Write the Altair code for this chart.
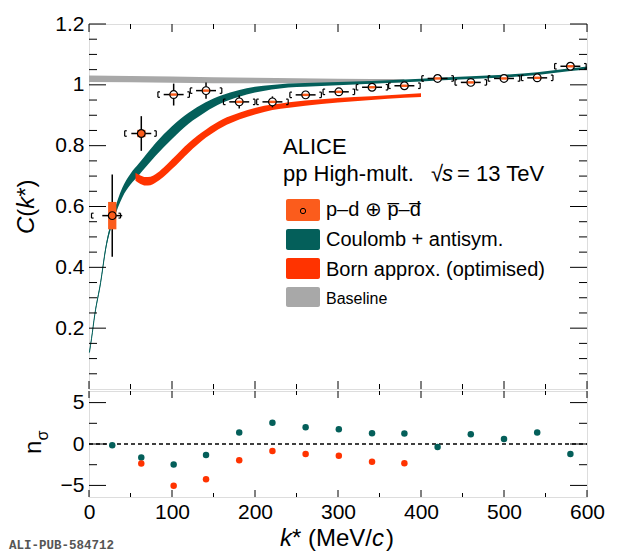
import altair as alt
import pandas as pd

FONT = "Liberation Sans"
TEAL = "#045f5a"
RED = "#ff3300"
ORANGE = "#fb5c1c"
GREY = "#a8a8a8"

# ---- p-d correlation ----
K = [28, 63, 102, 141, 181, 221, 261, 301, 341, 380, 420, 460, 500, 540, 580]
CK = [0.570, 0.840, 0.968, 0.981, 0.944, 0.944, 0.967, 0.977, 0.992, 0.997,
      1.021, 1.008, 1.021, 1.023, 1.061]
STAT = [0.135, 0.057, 0.036, 0.027, 0.022, 0.018, 0.013, 0.012, 0.011, 0.011,
        0.011, 0.011, 0.011, 0.011, 0.011]
SYS = [0.045, 0.012, 0.004, 0.004, 0.004, 0.004, 0.004, 0.004, 0.004, 0.004,
       0.004, 0.004, 0.004, 0.004, 0.004]
BRK_H = [0.008, 0.009, 0.009, 0.009, 0.009, 0.009, 0.009, 0.009, 0.009, 0.009,
         0.009, 0.009, 0.009, 0.009, 0.009]
BRK_L = [25, 20, 19, 19, 19, 19, 19, 19, 19, 19, 19, 19, 19, 19, 19]
BRK_R = [10, 18, 19, 19, 19, 19, 19, 19, 19, 19, 19, 19, 19, 19, 19]
XERR = 12
BOXW = 5

# Coulomb + antisym. band
COUL_K = [0.5, 3, 7, 14, 20, 30, 40, 50, 60, 70, 80, 100, 120, 140, 160, 180,
          200, 220, 240, 260, 300, 340, 380, 420, 460, 500, 540, 580, 600]
COUL_C = [0.12, 0.165, 0.245, 0.35, 0.46, 0.57, 0.645, 0.69, 0.722, 0.755, 0.787,
          0.843, 0.89, 0.926, 0.953, 0.971, 0.984, 0.992, 0.998, 1.0, 1.004,
          1.008, 1.013, 1.019, 1.024, 1.029, 1.037, 1.05, 1.056]
COUL_W = [0.003, 0.004, 0.005, 0.006, 0.007, 0.012, 0.016, 0.018, 0.019, 0.020,
          0.021, 0.021, 0.018, 0.016, 0.013, 0.011, 0.0095, 0.0075, 0.0065,
          0.006, 0.005, 0.0045, 0.0045, 0.0045, 0.0045, 0.0045, 0.0045, 0.0045,
          0.0045]

# Born approx. (optimised) band
BORN_K = [56, 62, 68, 74, 80, 90, 100, 120, 141, 161, 181, 201, 221, 241, 280,
          320, 360, 400]
BORN_C = [0.698, 0.688, 0.683, 0.684, 0.692, 0.713, 0.739, 0.793, 0.840, 0.874,
          0.897, 0.914, 0.926, 0.934, 0.945, 0.953, 0.960, 0.966]
BORN_W = [0.013, 0.014, 0.014, 0.014, 0.014, 0.015, 0.016, 0.016, 0.0135, 0.0125,
          0.011, 0.011, 0.009, 0.009, 0.008, 0.007, 0.006, 0.006]

# baseline band
BASE_K = [0, 100, 200, 300, 380]
BASE_LO = [1.009, 1.007, 1.005, 1.005, 1.008]
BASE_HI = [1.031, 1.027, 1.023, 1.020, 1.019]

# n_sigma
NS_COUL = [-0.16, -1.63, -2.48, -1.34, 1.38, 2.56, 2.03, 1.79, 1.30, 1.26,
           -0.37, 1.18, 0.61, 1.38, -1.22]
NS_BORN_K = [63, 102, 141, 181, 221, 261, 301, 341, 380]
NS_BORN = [-2.36, -5.04, -4.27, -1.95, -0.85, -1.22, -1.42, -2.15, -2.32]

LEGEND = [
    ("p\u2013d \u2295 p\u0305\u2013d\u0305", ORANGE, 20),
    ("Coulomb + antisym.", TEAL, 20),
    ("Born approx. (optimised)", RED, 20),
    ("Baseline", GREY, 16),
]

X_MAJOR = [0, 100, 200, 300, 400, 500, 600]
X_MINOR = [50, 150, 250, 350, 450, 550]
Y_MAJOR = [0.2, 0.4, 0.6, 0.8, 1.0, 1.2]
Y_MINOR = [0.05, 0.1, 0.15, 0.25, 0.3, 0.35, 0.45, 0.5, 0.55, 0.65, 0.7, 0.75,
           0.85, 0.9, 0.95, 1.05, 1.1, 1.15]
N_MAJOR = [-5, 0, 5]
N_MINOR = [-2.5, 2.5]

W, H1, H2 = 498, 365, 106

xs = alt.Scale(domain=[0, 600], nice=False, zero=False)
ys_top = alt.Scale(domain=[0, 1.2], nice=False, zero=False)
ys_bot = alt.Scale(domain=[-6.4, 6.4], nice=False, zero=False)

lab = dict(ticks=False, domain=False, grid=False, title=None, labelFont=FONT,
           labelFontSize=21, labelColor="black")
ax_x_top = alt.Axis(labels=False, **lab)
ax_x_bot = alt.Axis(values=X_MAJOR, format="d", labelPadding=4,
                    labelFlush=False, labelOverlap=False, **lab)
ax_y_top = alt.Axis(values=Y_MAJOR, format="~g", labelPadding=5,
                    labelOverlap=False, minExtent=45, maxExtent=45, **lab)
ax_y_bot = alt.Axis(values=N_MAJOR, format="d", labelPadding=5,
                    labelOverlap=False, minExtent=45, maxExtent=45, **lab)


def XT(f):
    return alt.X(f, type="quantitative", scale=xs, axis=ax_x_top)


def YT(f):
    return alt.Y(f, type="quantitative", scale=ys_top, axis=ax_y_top)


def XB(f):
    return alt.X(f, type="quantitative", scale=xs, axis=ax_x_bot)


def YB(f):
    return alt.Y(f, type="quantitative", scale=ys_bot, axis=ax_y_bot)


ONE = pd.DataFrame({"a": [0]})


def txt(s, x, y, size, style="normal", angle=0, font=FONT, color="black",
        weight="normal"):
    return alt.Chart(ONE).mark_text(
        text=s, font=font, fontSize=size, fontStyle=style, fontWeight=weight,
        angle=angle, align="left", baseline="alphabetic", color=color
    ).encode(x=alt.value(x), y=alt.value(y))


def tick_layers(X, Y, xmaj, xmin, ymaj, ymin, h, lx, lxm, ly, lym):
    out = []
    for vals, L in ((xmaj, lx), (xmin, lxm)):
        d = pd.DataFrame({"v": vals})
        out.append(alt.Chart(d).mark_rule(color="black", strokeWidth=1).encode(
            x=X("v"), y=alt.value(h), y2=alt.value(h - L)))
        out.append(alt.Chart(d).mark_rule(color="black", strokeWidth=1).encode(
            x=X("v"), y=alt.value(0), y2=alt.value(L)))
    for vals, L in ((ymaj, ly), (ymin, lym)):
        d = pd.DataFrame({"v": vals})
        out.append(alt.Chart(d).mark_rule(color="black", strokeWidth=1).encode(
            y=Y("v"), x=alt.value(0), x2=alt.value(L)))
        out.append(alt.Chart(d).mark_rule(color="black", strokeWidth=1).encode(
            y=Y("v"), x=alt.value(W), x2=alt.value(W - L)))
    return out


# ---- tables ----
pts = pd.DataFrame({"k": K, "c": CK, "stat": STAT, "sys": SYS, "bh": BRK_H,
                    "bl": BRK_L, "br": BRK_R})
pts["lo"] = pts.c - pts.stat
pts["hi"] = pts.c + pts.stat
pts["xl"] = pts.k - XERR
pts["xr"] = pts.k + XERR
pts["bxl"] = pts.k - BOXW
pts["bxr"] = pts.k + BOXW
pts["slo"] = pts.c - pts.sys
pts["shi"] = pts.c + pts.sys

# systematic brackets
vert = pd.concat([
    pd.DataFrame({"x": pts.k - pts.bl, "y1": pts.c - pts.bh, "y2": pts.c + pts.bh}),
    pd.DataFrame({"x": pts.k + pts.br, "y1": pts.c - pts.bh, "y2": pts.c + pts.bh}),
])
serif = pd.concat([
    pd.DataFrame({"x1": pts.k - pts.bl, "x2": pts.k - pts.bl + 2.5, "y": pts.c - pts.bh}),
    pd.DataFrame({"x1": pts.k - pts.bl, "x2": pts.k - pts.bl + 2.5, "y": pts.c + pts.bh}),
    pd.DataFrame({"x1": pts.k + pts.br, "x2": pts.k + pts.br - 2.5, "y": pts.c - pts.bh}),
    pd.DataFrame({"x1": pts.k + pts.br, "x2": pts.k + pts.br - 2.5, "y": pts.c + pts.bh}),
])

coul = pd.DataFrame({"k": COUL_K, "c": COUL_C, "w": COUL_W})
coul["lo"] = coul.c - coul.w
coul["hi"] = coul.c + coul.w
born = pd.DataFrame({"k": BORN_K, "c": BORN_C, "w": BORN_W})
born["lo"] = born.c - born.w
born["hi"] = born.c + born.w
base = pd.DataFrame({"k": BASE_K, "lo": BASE_LO, "hi": BASE_HI})

# ---- top panel ----
top_layers = [
    alt.Chart(base).mark_area(color=GREY, interpolate="monotone").encode(
        x=XT("k"), y=YT("lo"), y2="hi"),
    alt.Chart(coul).mark_line(color=TEAL, strokeWidth=1, interpolate="monotone").encode(
        x=XT("k"), y=YT("c")),
    alt.Chart(coul).mark_area(color=TEAL, interpolate="monotone").encode(
        x=XT("k"), y=YT("lo"), y2="hi"),
    alt.Chart(born).mark_area(color=RED, interpolate="monotone").encode(
        x=XT("k"), y=YT("lo"), y2="hi"),
    alt.Chart(vert).mark_rule(color="black", strokeWidth=1.2).encode(
        x=XT("x"), y=YT("y1"), y2="y2"),
    alt.Chart(serif).mark_rule(color="black", strokeWidth=1.2).encode(
        x=XT("x1"), x2="x2", y=YT("y")),
    alt.Chart(pts).mark_rule(color="black", strokeWidth=1.5).encode(
        x=XT("k"), y=YT("lo"), y2="hi"),
    alt.Chart(pts).mark_rule(color="black", strokeWidth=1.5).encode(
        x=XT("xl"), x2="xr", y=YT("c")),
    alt.Chart(pts).mark_point(shape="circle", filled=True, color="white",
                              opacity=1, size=60).encode(x=XT("k"), y=YT("c")),
    alt.Chart(pts).mark_rect(color=ORANGE).encode(
        x=XT("bxl"), x2="bxr", y=YT("slo"), y2="shi"),
    alt.Chart(pts).mark_point(shape="circle", filled=False, color="black",
                              strokeWidth=1.2, opacity=1, size=60).encode(
        x=XT("k"), y=YT("c")),
]
top_layers += tick_layers(XT, YT, X_MAJOR, X_MINOR, Y_MAJOR, Y_MINOR, H1,
                          8, 5, 17, 8)

# legend
box_top = [175, 205, 234, 263]
box_h = [22, 21, 21, 20]
txt_y = [192, 222, 252, 280]
for (label, col, fs), bt, bh, ty in zip(LEGEND, box_top, box_h, txt_y):
    top_layers.append(alt.Chart(ONE).mark_rect(color=col, cornerRadius=2).encode(
        x=alt.value(197), x2=alt.value(231), y=alt.value(bt), y2=alt.value(bt + bh)))
    top_layers.append(txt(label, 237, ty, fs))
top_layers.append(alt.Chart(ONE).mark_point(
    shape="circle", filled=False, color="black", strokeWidth=1, size=28, opacity=1
).encode(x=alt.value(214), y=alt.value(187)))

top_layers += [
    txt("ALICE", 194, 130, 22),
    txt("pp High-mult.", 194, 157, 22),
    txt("\u221a", 342, 157, 22),
    txt("s", 353, 157, 22, style="italic"),
    txt("= 13 TeV", 368, 157, 22),
    # y title C(k*)
    txt("C", -55, 210, 24, style="italic", angle=270),
    txt("(", -55, 192.7, 24, angle=270),
    txt("k", -55, 184.7, 24, style="italic", angle=270),
    txt("*", -55, 172.7, 24, angle=270),
    txt(")", -55, 163.4, 24, angle=270),
]

top = alt.layer(*top_layers).properties(width=W, height=H1)

# ---- bottom panel ----
ns_c = pd.DataFrame({"k": K, "n": NS_COUL})
ns_b = pd.DataFrame({"k": NS_BORN_K, "n": NS_BORN})
zero = pd.DataFrame({"n": [0]})

bot_layers = [
    alt.Chart(zero).mark_rule(color="black", strokeWidth=1.5, strokeDash=[4, 3]).encode(
        x=alt.value(0), x2=alt.value(W), y=YB("n")),
    alt.Chart(ns_c).mark_circle(color=TEAL, size=42, opacity=1).encode(
        x=XB("k"), y=YB("n")),
    alt.Chart(ns_b).mark_circle(color=RED, size=42, opacity=1).encode(
        x=XB("k"), y=YB("n")),
]
bot_layers += tick_layers(XB, YB, X_MAJOR, X_MINOR, N_MAJOR, N_MINOR, H2,
                          7, 4, 17, 8)
bot_layers += [
    txt("n", -48, 63, 24, angle=270),
    txt("\u03c3", -41, 49.6, 16, angle=270),
    txt("k", 191, 155, 24, style="italic"),
    txt("*", 203, 155, 24),
    txt("(MeV/", 219, 155, 24),
    txt("c", 283, 155, 24, style="italic"),
    txt(")", 297, 155, 24),
    txt("ALI-PUB-584712", -80, 158, 12.5, font="Liberation Mono",
        color="#555555", weight="bold"),
]

bottom = alt.layer(*bot_layers).properties(width=W, height=H2)

chart = alt.vconcat(top, bottom, spacing=0).properties(
    padding={"left": 0, "top": 4, "right": 5, "bottom": 0}
).configure_view(
    stroke="black", strokeWidth=1.3
).configure(background="white")

chart.save("out.html", embed_options={"renderer": "svg", "actions": False})
